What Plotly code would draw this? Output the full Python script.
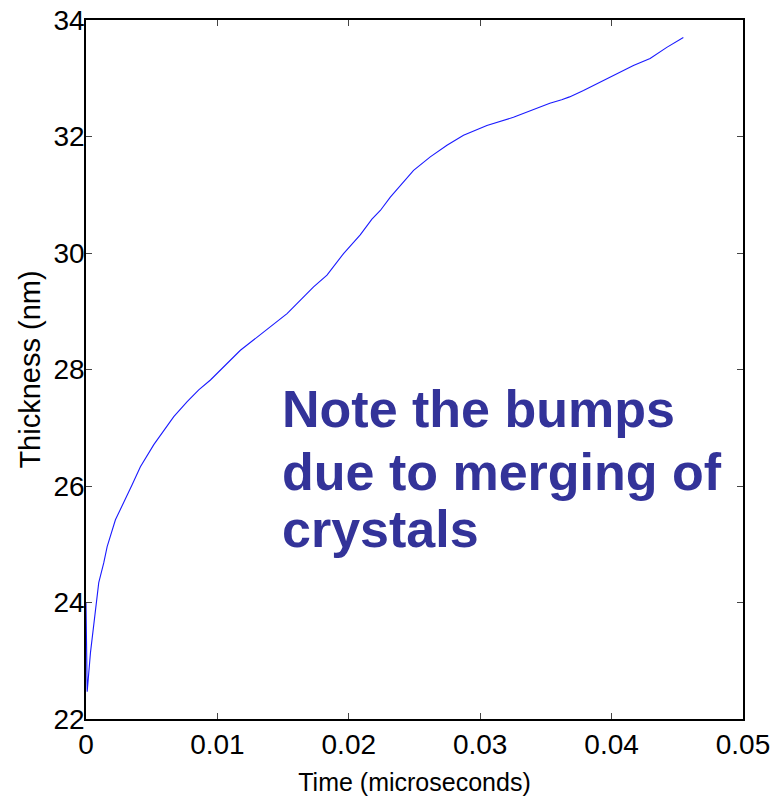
import plotly.graph_objects as go

time_us = [0, 0.00009, 0.00034, 0.00072, 0.00097, 0.00135, 0.00161, 0.00224, 0.00288,
           0.00351, 0.00414, 0.00516, 0.00668, 0.0077, 0.00858, 0.00947, 0.01175,
           0.01428, 0.0153, 0.01732, 0.01834, 0.0196, 0.02087, 0.02176, 0.0224,
           0.02316, 0.02392, 0.02493, 0.0262, 0.02747, 0.02873, 0.03051, 0.03253,
           0.03456, 0.0353, 0.0362, 0.0368, 0.03786, 0.03913, 0.0404, 0.04166,
           0.04293, 0.0442, 0.04546]
thickness_nm = [24.0, 22.47, 23.14, 23.83, 24.34, 24.68, 24.96, 25.42, 25.71,
                26.02, 26.33, 26.71, 27.19, 27.45, 27.65, 27.82, 28.33,
                28.79, 28.96, 29.42, 29.62, 29.99, 30.31, 30.58, 30.73,
                30.96, 31.16, 31.42, 31.65, 31.85, 32.02, 32.19, 32.33,
                32.51, 32.57, 32.63, 32.68, 32.79, 32.93, 33.07, 33.22,
                33.34, 33.53, 33.70]

x_ticks = [0, 0.01, 0.02, 0.03, 0.04, 0.05]
x_tick_labels = ["0", "0.01", "0.02", "0.03", "0.04", "0.05"]
y_ticks = [22, 24, 26, 28, 30, 32, 34]
y_tick_labels = ["22", "24", "26", "28", "30", "32", "34"]

note_lines = ["Note the bumps", "due to merging of", "crystals"]

FONT = "Liberation Sans, Arial, sans-serif"

fig = go.Figure()
fig.add_trace(go.Scatter(x=time_us, y=thickness_nm, mode="lines",
                         line=dict(color="#1a1aff", width=1.1), showlegend=False))

axis_common = dict(showgrid=False, zeroline=False, showline=True, linecolor="black",
                   linewidth=1.5, mirror="ticks", ticks="inside", ticklen=6,
                   tickcolor="#444", tickwidth=1, automargin=False,
                   tickfont=dict(family=FONT, size=28, color="black"))

fig.update_xaxes(range=[0, 0.05], tickvals=x_ticks, ticktext=x_tick_labels,
                 title=dict(text="Time (microseconds)", standoff=14,
                            font=dict(family=FONT, size=25, color="black")),
                 **axis_common)
fig.update_yaxes(range=[22, 34], tickvals=y_ticks, ticktext=y_tick_labels,
                 ticklabelstandoff=-6,
                 title=dict(text="Thickness (nm)", standoff=4,
                            font=dict(family=FONT, size=29, color="black")),
                 **axis_common)

plot_top, plot_h = 19.5, 700.0
centers_px = [409, 472, 529]
for txt, cy in zip(note_lines, centers_px):
    fig.add_annotation(text="<b>" + txt + "</b>", xref="paper", yref="paper",
                       x=(280 - 85.5) / 657.5, y=(plot_top + plot_h - cy) / plot_h,
                       xanchor="left", yanchor="middle", showarrow=False,
                       font=dict(family=FONT, size=52, color="#333399"))

fig.update_layout(width=784, height=802, margin=dict(l=85.5, r=41, t=19.5, b=82.5),
                  paper_bgcolor="white", plot_bgcolor="white")

fig.write_html("out.html")
